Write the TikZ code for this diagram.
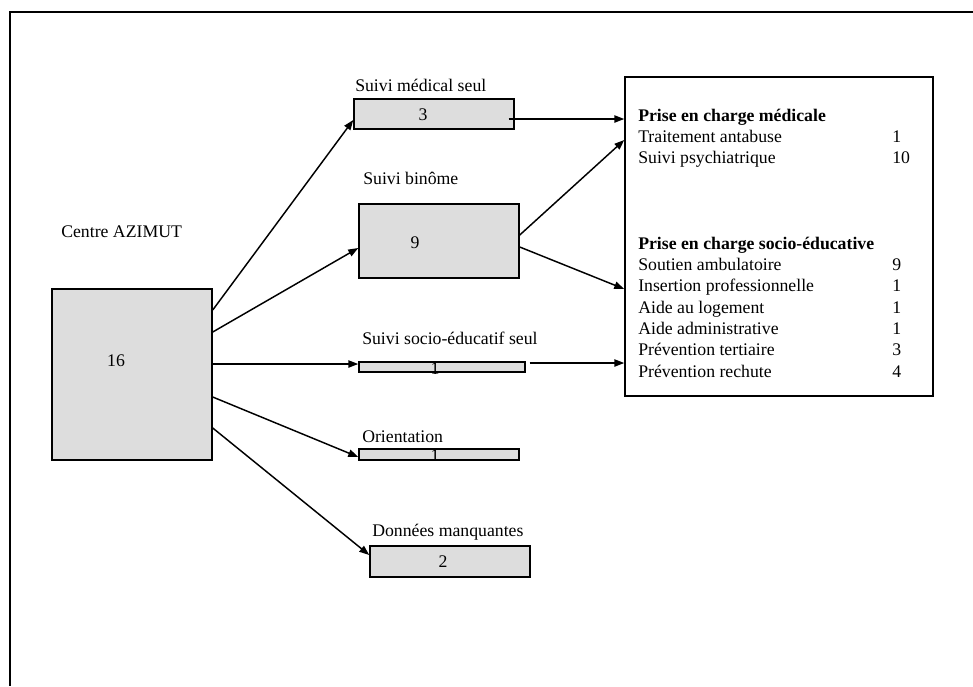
\documentclass[tikz,border=0pt]{standalone}
\usepackage{fontspec}
\setmainfont{Liberation Serif}
\usepackage{xcolor}
\usetikzlibrary{arrows.meta,calc}
\definecolor{boxgray}{RGB}{221,221,221}

\begin{document}
\begin{tikzpicture}[
  x=0.75pt, y=-0.75pt,
  every node/.style={font=\fontsize{13.3}{16}\selectfont},
  boite/.style={draw, line width=1.1pt, fill=boxgray, inner sep=0, minimum width=120pt},
  titre/.style={anchor=west, inner sep=0},
  num/.style={inner sep=0},
  ptr/.style={-{Triangle[length=7.5pt,width=5.5pt]}, line width=1.1pt}
]
\useasboundingbox (0,0) rectangle (973,686);
\draw[line width=1.1pt] (973,12) -- (10,12) -- (10,686);

\node[boite, minimum height=128.25pt] (centre) at (132,374.5) {};
\node[titre] (tcentre) at (61,232) {Centre AZIMUT};
\node[num] (ncentre) at (116,361) {16};

\node[boite, minimum height=22.5pt] (med) at (434,114) {};
\node[titre] (tmed) at (355,85) {Suivi médical seul};
\node[num] (nmed) at (423,115) {3};

\node[boite, minimum height=55.5pt] (bin) at (439,241) {};
\node[titre] (tbin) at (363,178) {Suivi binôme};
\node[num] (nbin) at (415,243) {9};

\node[boite, minimum width=124.5pt, minimum height=7.5pt] (socio) at (442,367) {};
\node[titre] (tsocio) at (362,338) {Suivi socio-éducatif seul};
\node[num] (nsocio) at (435,368.5) {1};

\node[boite, minimum height=8.25pt] (orient) at (439,454.5) {};
\node[titre] (torient) at (362,437) {Orientation};
\node[num] (norient) at (435,456) {1};

\node[boite, minimum height=23.25pt] (manq) at (450,561.5) {};
\node[titre] (tmanq) at (372,532) {Données manquantes};
\node[num] (nmanq) at (443,562) {2};

\node[draw, line width=1.1pt, inner sep=0, minimum width=231pt, minimum height=239.25pt] (prise) at (779,236.5) {};
\node[anchor=base west, inner sep=0] (liste) at (638,121) {%
\begin{tabular}[t]{@{}p{190.5pt}@{}l@{}}
\textbf{Prise en charge médicale} & \\
Traitement antabuse & 1\\
Suivi psychiatrique & 10\\
 & \\
 & \\
 & \\
\textbf{Prise en charge socio-éducative} & \\
Soutien ambulatoire & 9\\
Insertion professionnelle & 1\\
Aide au logement & 1\\
Aide administrative & 1\\
Prévention tertiaire & 3\\
Prévention rechute & 4
\end{tabular}};

\draw[ptr] (centre.east) ++(0,-64.5) -- ($(med.west)+(0,6)$);
\draw[ptr] (centre.east) ++(0,-42.5) -- ($(bin.west)+(0,7)$);
\draw[ptr] (centre.east) ++(0,-10.5) -- ($(socio.west)+(0,-3)$);
\draw[ptr] (centre.east) ++(0,22.5) -- ($(orient.west)+(0,2.5)$);
\draw[ptr] (centre.east) ++(0,53.5) -- ($(manq.west)+(0,-6.5)$);
\draw[ptr] (med.east) ++(-6,5) -- ($(prise.west)+(0,-117.5)$);
\draw[ptr] (bin.east) ++(0,-6) -- ($(prise.west)+(0,-96.5)$);
\draw[ptr] (bin.east) ++(0,6) -- ($(prise.west)+(0,52.5)$);
\draw[ptr] (socio.east) ++(4,-4) -- ($(prise.west)+(0,126.5)$);
\end{tikzpicture}
\end{document}
